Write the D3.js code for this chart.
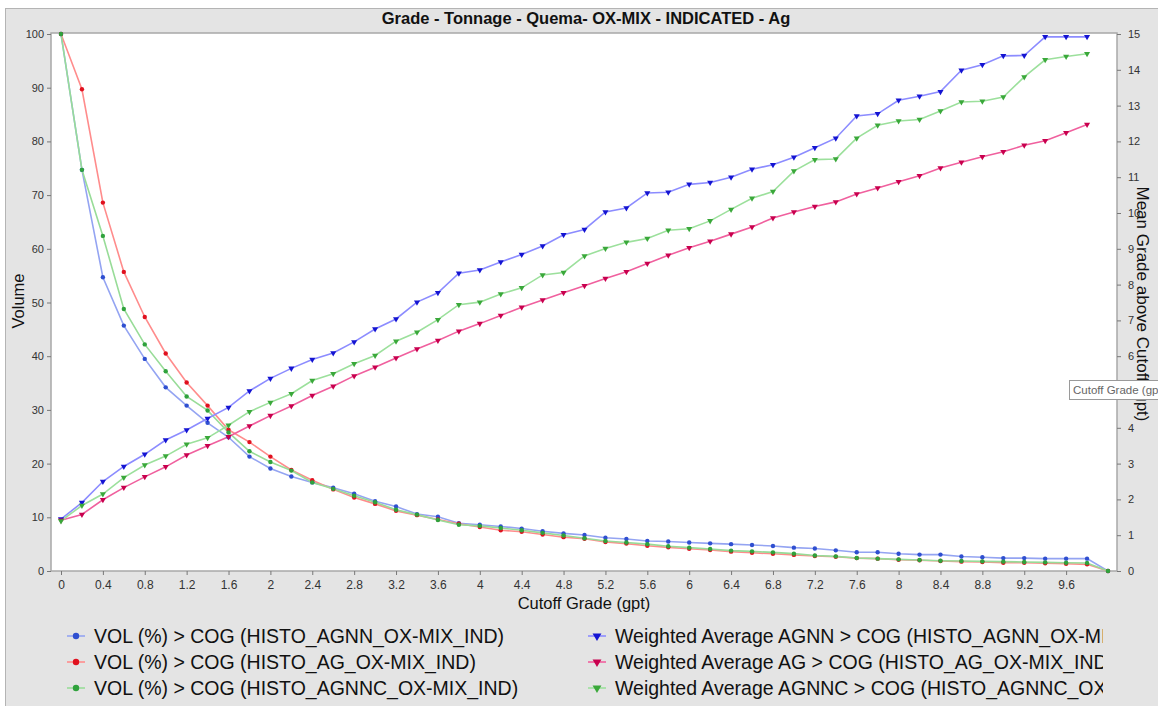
<!DOCTYPE html>
<html><head><meta charset="utf-8">
<script src="https://cdn.jsdelivr.net/npm/d3@7"></script>
<style>
body{margin:0;background:#fff;}
svg{display:block;font-family:"Liberation Sans",Arial,sans-serif;}
</style></head>
<body>
<svg id="chart" width="1158" height="706"></svg>
<script>
// ---------- data ----------
const cutoffs = [0,0.2,0.4,0.6,0.8,1.0,1.2,1.4,1.6,1.8,2.0,2.2,2.4,2.6,2.8,3.0,3.2,3.4,3.6,3.8,4.0,4.2,4.4,4.6,4.8,5.0,5.2,5.4,5.6,5.8,6.0,6.2,6.4,6.6,6.8,7.0,7.2,7.4,7.6,7.8,8.0,8.2,8.4,8.6,8.8,9.0,9.2,9.4,9.6,9.8,10.0];
const volAGNN = [100,74.7,54.7,45.7,39.5,34.2,30.8,27.6,24.9,21.3,19.1,17.6,16.5,15.5,14.4,13.0,12.0,10.6,10.1,8.9,8.6,8.3,7.9,7.4,7.0,6.7,6.2,5.96,5.6,5.5,5.3,5.15,5.0,4.85,4.65,4.35,4.2,3.85,3.5,3.5,3.2,3.05,3.05,2.7,2.55,2.4,2.4,2.3,2.3,2.3,0];
const volAG = [100,89.7,68.6,55.7,47.3,40.5,35.1,30.8,26.3,24.0,21.3,18.8,16.9,15.2,13.7,12.5,11.2,10.4,9.6,8.8,8.2,7.6,7.3,6.8,6.3,6.0,5.4,5.1,4.7,4.4,4.15,3.9,3.6,3.4,3.2,3.0,2.8,2.65,2.4,2.3,2.1,2.0,1.86,1.74,1.67,1.55,1.55,1.43,1.36,1.24,0];
const volAGNNC = [100,74.7,62.4,48.8,42.2,37.2,32.5,29.9,25.8,22.3,20.3,18.7,16.5,15.3,14.0,12.8,11.4,10.5,9.5,8.6,8.4,8.0,7.6,7.1,6.6,6.1,5.6,5.3,5.0,4.6,4.35,4.1,3.8,3.66,3.47,3.23,2.9,2.73,2.42,2.3,2.17,2.05,1.92,1.86,1.8,1.74,1.67,1.61,1.55,1.49,0];
const wAGNN = [1.45,1.91,2.50,2.92,3.26,3.66,3.94,4.26,4.57,5.03,5.38,5.66,5.91,6.09,6.40,6.76,7.04,7.51,7.77,8.32,8.41,8.63,8.84,9.08,9.39,9.54,10.03,10.14,10.56,10.58,10.80,10.85,11.00,11.22,11.35,11.56,11.82,12.09,12.71,12.77,13.15,13.26,13.39,13.99,14.14,14.39,14.40,14.92,14.92,14.92];
const wAG = [1.42,1.58,1.99,2.33,2.63,2.91,3.24,3.50,3.75,4.05,4.34,4.61,4.90,5.16,5.45,5.69,5.95,6.20,6.44,6.70,6.91,7.14,7.37,7.57,7.77,7.97,8.17,8.36,8.59,8.82,9.03,9.21,9.41,9.61,9.86,10.03,10.18,10.31,10.53,10.70,10.87,11.04,11.26,11.42,11.57,11.71,11.89,12.02,12.24,12.47];
const wAGNNC = [1.40,1.83,2.15,2.61,2.96,3.21,3.54,3.72,4.07,4.45,4.71,4.95,5.32,5.51,5.79,6.02,6.42,6.67,7.02,7.44,7.51,7.74,7.91,8.27,8.34,8.80,9.01,9.18,9.29,9.52,9.56,9.78,10.10,10.41,10.60,11.17,11.49,11.51,12.09,12.45,12.57,12.61,12.85,13.10,13.12,13.24,13.80,14.28,14.37,14.45];
const xTicks = [0,0.4,0.8,1.2,1.6,2,2.4,2.8,3.2,3.6,4,4.4,4.8,5.2,5.6,6,6.4,6.8,7.2,7.6,8,8.4,8.8,9.2,9.6];
const yLeftTicks = [0,10,20,30,40,50,60,70,80,90,100];
const yRightTicks = [0,1,2,3,4,5,6,7,8,9,10,11,12,13,14,15];
const seriesNames = [
  "VOL (%) > COG (HISTO_AGNN_OX-MIX_IND)",
  "VOL (%) > COG (HISTO_AG_OX-MIX_IND)",
  "VOL (%) > COG (HISTO_AGNNC_OX-MIX_IND)",
  "Weighted Average AGNN > COG (HISTO_AGNN_OX-MIX_IND)",
  "Weighted Average AG > COG (HISTO_AG_OX-MIX_IND)",
  "Weighted Average AGNNC > COG (HISTO_AGNNC_OX-MIX_IND)"
];
const titleText = "Grade - Tonnage - Quema- OX-MIX - INDICATED - Ag";

// ---------- layout ----------
const svg = d3.select("#chart");
const P = {left:51, right:1117, top:33, bottom:571};

svg.append("rect").attr("x",5.5).attr("y",8.5).attr("width",1160).attr("height",710)
  .attr("fill","#e4e4e4").attr("stroke","#b4b4b4");

const x = d3.scaleLinear().domain([0,10]).range([61,1108]);
const yL = d3.scaleLinear().domain([0,100]).range([571,34]);
const yR = d3.scaleLinear().domain([0,15]).range([571,34]);

svg.append("rect").attr("x",P.left).attr("y",P.top).attr("width",P.right-P.left).attr("height",P.bottom-P.top)
  .attr("fill","#fff").attr("stroke","#a8a8a8").attr("stroke-width",1.5);

// title
svg.append("text").attr("x",586).attr("y",24).attr("text-anchor","middle")
  .attr("font-weight","bold").attr("font-size",16.5).attr("fill","#111").text(titleText);

// axes
const axStyle = g => { g.select(".domain").remove(); g.selectAll("line").attr("stroke","#777");
  g.selectAll("text").attr("fill","#333").attr("font-size",11).attr("font-family","'Liberation Sans',Arial,sans-serif"); };
svg.append("g").attr("transform",`translate(${P.left},0)`)
  .call(d3.axisLeft(yL).tickValues(yLeftTicks).tickSize(4).tickPadding(3)).call(axStyle);
svg.append("g").attr("transform",`translate(${P.right},0)`)
  .call(d3.axisRight(yR).tickValues(yRightTicks).tickSize(4).tickPadding(7)).call(axStyle);
svg.append("g").attr("transform",`translate(0,${P.bottom})`)
  .call(d3.axisBottom(x).tickValues(xTicks).tickFormat(d3.format("~g")).tickSize(4).tickPadding(5)).call(axStyle)
  .selectAll("text").attr("font-size",12);

// axis titles
svg.append("text").attr("transform","translate(24,301) rotate(-90)").attr("text-anchor","middle")
  .attr("font-size",16.5).attr("fill","#111").text("Volume");
svg.append("text").attr("x",584).attr("y",609).attr("text-anchor","middle")
  .attr("font-size",16.5).attr("fill","#111").text("Cutoff Grade (gpt)");
svg.append("text").attr("transform","translate(1137,304) rotate(90)").attr("text-anchor","middle")
  .attr("font-size",17).attr("fill","#111").text("Mean Grade above Cutoff (gpt)");

// series
const series = [
  {vals:volAGNN, y:yL, line:"#94a4f2", mark:"#2f4fd0", sym:"circle"},
  {vals:volAG, y:yL, line:"#ff8c8c", mark:"#e0101e", sym:"circle"},
  {vals:volAGNNC, y:yL, line:"#98dc98", mark:"#2fa23c", sym:"circle"},
  {vals:wAGNN, y:yR, line:"#8c8cff", mark:"#1414d2", sym:"tri"},
  {vals:wAG, y:yR, line:"#f0609e", mark:"#c8004e", sym:"tri"},
  {vals:wAGNNC, y:yR, line:"#9ce09c", mark:"#3aa83a", sym:"tri"}
];
const plot = svg.append("g");
const triPath = d3.symbol().type(d3.symbolTriangle).size(16)();
series.forEach(s => {
  const pts = s.vals.map((v,i)=>[cutoffs[i], v]);
  plot.append("path").datum(pts)
    .attr("d", d3.line().x(d=>x(d[0])).y(d=>s.y(d[1])))
    .attr("fill","none").attr("stroke",s.line).attr("stroke-width",1.6);
});
series.forEach(s => {
  const pts = s.vals.map((v,i)=>[cutoffs[i], v]);
  const g = plot.append("g");
  if (s.sym==="circle") {
    g.selectAll("circle").data(pts).join("circle")
      .attr("cx",d=>x(d[0])).attr("cy",d=>s.y(d[1])).attr("r",2.2).attr("fill",s.mark);
  } else {
    g.selectAll("path").data(pts).join("path").attr("d",triPath)
      .attr("transform",d=>`translate(${x(d[0])},${s.y(d[1])}) rotate(180)`).attr("fill",s.mark);
  }
});

// legend
svg.append("clipPath").attr("id","legclip").append("rect").attr("x",0).attr("y",610).attr("width",1103).attr("height",100);
const leg = svg.append("g").attr("clip-path","url(#legclip)");
const legPos = [[76,636],[76,662],[76,688],[597,636],[597,662],[597,688]];
series.forEach((s,i) => {
  const [lx,ly] = legPos[i];
  leg.append("line").attr("x1",lx-9).attr("x2",lx+9).attr("y1",ly).attr("y2",ly).attr("stroke",s.line).attr("stroke-width",1.6);
  if (s.sym==="circle") leg.append("circle").attr("cx",lx).attr("cy",ly).attr("r",3.2).attr("fill",s.mark);
  else leg.append("path").attr("d",d3.symbol().type(d3.symbolTriangle).size(34)()).attr("transform",`translate(${lx},${ly}) rotate(180)`).attr("fill",s.mark);
  leg.append("text").attr("x",lx+18).attr("y",ly+7).attr("font-size",19.5).attr("fill","#111").text(seriesNames[i]);
});

// tooltip overlay
svg.append("rect").attr("x",1069.5).attr("y",380.5).attr("width",100).attr("height",19)
  .attr("fill","#fff").attr("stroke","#9a9a9a");
svg.append("text").attr("x",1073).attr("y",394).attr("font-size",11.5).attr("fill","#666").text("Cutoff Grade (gpt)");
</script>
</body></html>
